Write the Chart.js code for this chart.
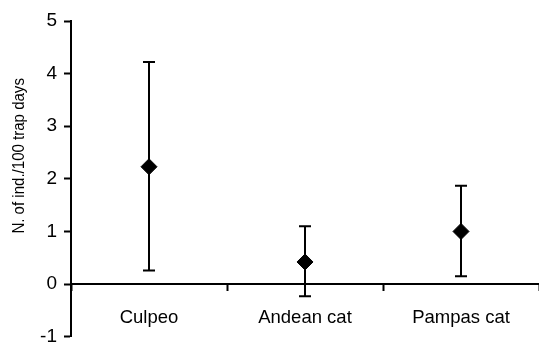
<!DOCTYPE html>
<html>
<head>
<meta charset="utf-8">
<script src="https://cdn.jsdelivr.net/npm/chart.js@4/dist/chart.umd.min.js"></script>
<style>
html,body{margin:0;padding:0;background:#fff;overflow:hidden;}
#c{display:block;}
</style>
</head>
<body>
<canvas id="c" width="539" height="343"></canvas>
<script>
const categories = ["Culpeo", "Andean cat", "Pampas cat"];
const means = [2.23, 0.42, 1.0];
const upper = [4.22, 1.10, 1.87];
const lower = [0.26, -0.23, 0.15];
const yTicks = [-1, 0, 1, 2, 3, 4, 5];
const yTitle = "N. of ind./100 trap days";

const FONT = "'Liberation Sans', Arial, Helvetica, sans-serif";

const errorBars = {
  id: 'errorBars',
  beforeDatasetsDraw(chart) {
    const ctx = chart.ctx;
    const xs = chart.scales.x, ys = chart.scales.y;
    ctx.save();
    ctx.strokeStyle = '#000';
    ctx.lineWidth = 2;
    const cap = 6;
    for (let i = 0; i < categories.length; i++) {
      const x = xs.getPixelForValue(i);
      const yU = ys.getPixelForValue(upper[i]);
      const yL = ys.getPixelForValue(lower[i]);
      ctx.beginPath();
      ctx.moveTo(x, yU); ctx.lineTo(x, yL);
      ctx.moveTo(x - cap, yU); ctx.lineTo(x + cap, yU);
      ctx.moveTo(x - cap, yL); ctx.lineTo(x + cap, yL);
      ctx.stroke();
    }
    ctx.restore();
  }
};

const axisTitle = {
  id: 'axisTitle',
  afterDraw(chart) {
    const ctx = chart.ctx;
    const ca = chart.chartArea;
    ctx.save();
    ctx.fillStyle = '#000';
    ctx.font = "16px " + FONT;
    ctx.textAlign = 'center';
    ctx.textBaseline = 'middle';
    ctx.translate(20, (ca.top + ca.bottom) / 2 - 23);
    ctx.rotate(-Math.PI / 2);
    ctx.scale(0.94, 1);
    ctx.fillText(yTitle, 0, 0);
    ctx.restore();
  }
};

new Chart(document.getElementById('c'), {
  type: 'line',
  data: {
    labels: categories,
    datasets: [{
      data: means,
      showLine: false,
      clip: false,
      pointStyle: 'rectRot',
      pointRadius: 8,
      pointHoverRadius: 8,
      pointBackgroundColor: '#000',
      pointBorderColor: '#000',
      pointBorderWidth: 1
    }]
  },
  options: {
    responsive: false,
    animation: false,
    events: [],
    layout: { autoPadding: false, padding: { top: 21, bottom: 6.3, left: 0, right: 0 } },
    plugins: { legend: { display: false }, tooltip: { enabled: false } },
    scales: {
      x: {
        type: 'category',
        position: { y: 0 },
        offset: true,
        afterFit(scale) { scale.paddingLeft = 0; scale.paddingRight = 0; },
        grid: { offset: true, drawOnChartArea: false, drawTicks: true, tickLength: 6, color: '#000', tickWidth: 2 },
        border: { display: true, color: '#000', width: 2 },
        ticks: { color: '#000', font: { family: FONT, size: 18.5 }, padding: 17, maxRotation: 0, autoSkip: false }
      },
      y: {
        min: -1, max: 5,
        afterBuildTicks(scale) { scale.ticks = yTicks.map(v => ({ value: v })); },
        afterFit(scale) { scale.width = 71; scale.paddingTop = 0; scale.paddingBottom = 0; },
        grid: { drawOnChartArea: false, drawTicks: true, tickLength: 7, color: '#000', tickWidth: 2 },
        border: { display: true, color: '#000', width: 2 },
        ticks: { color: '#000', font: { family: FONT, size: 19 }, padding: 7 },
        title: { display: false }
      }
    }
  },
  plugins: [errorBars, axisTitle]
});
</script>
</body>
</html>
